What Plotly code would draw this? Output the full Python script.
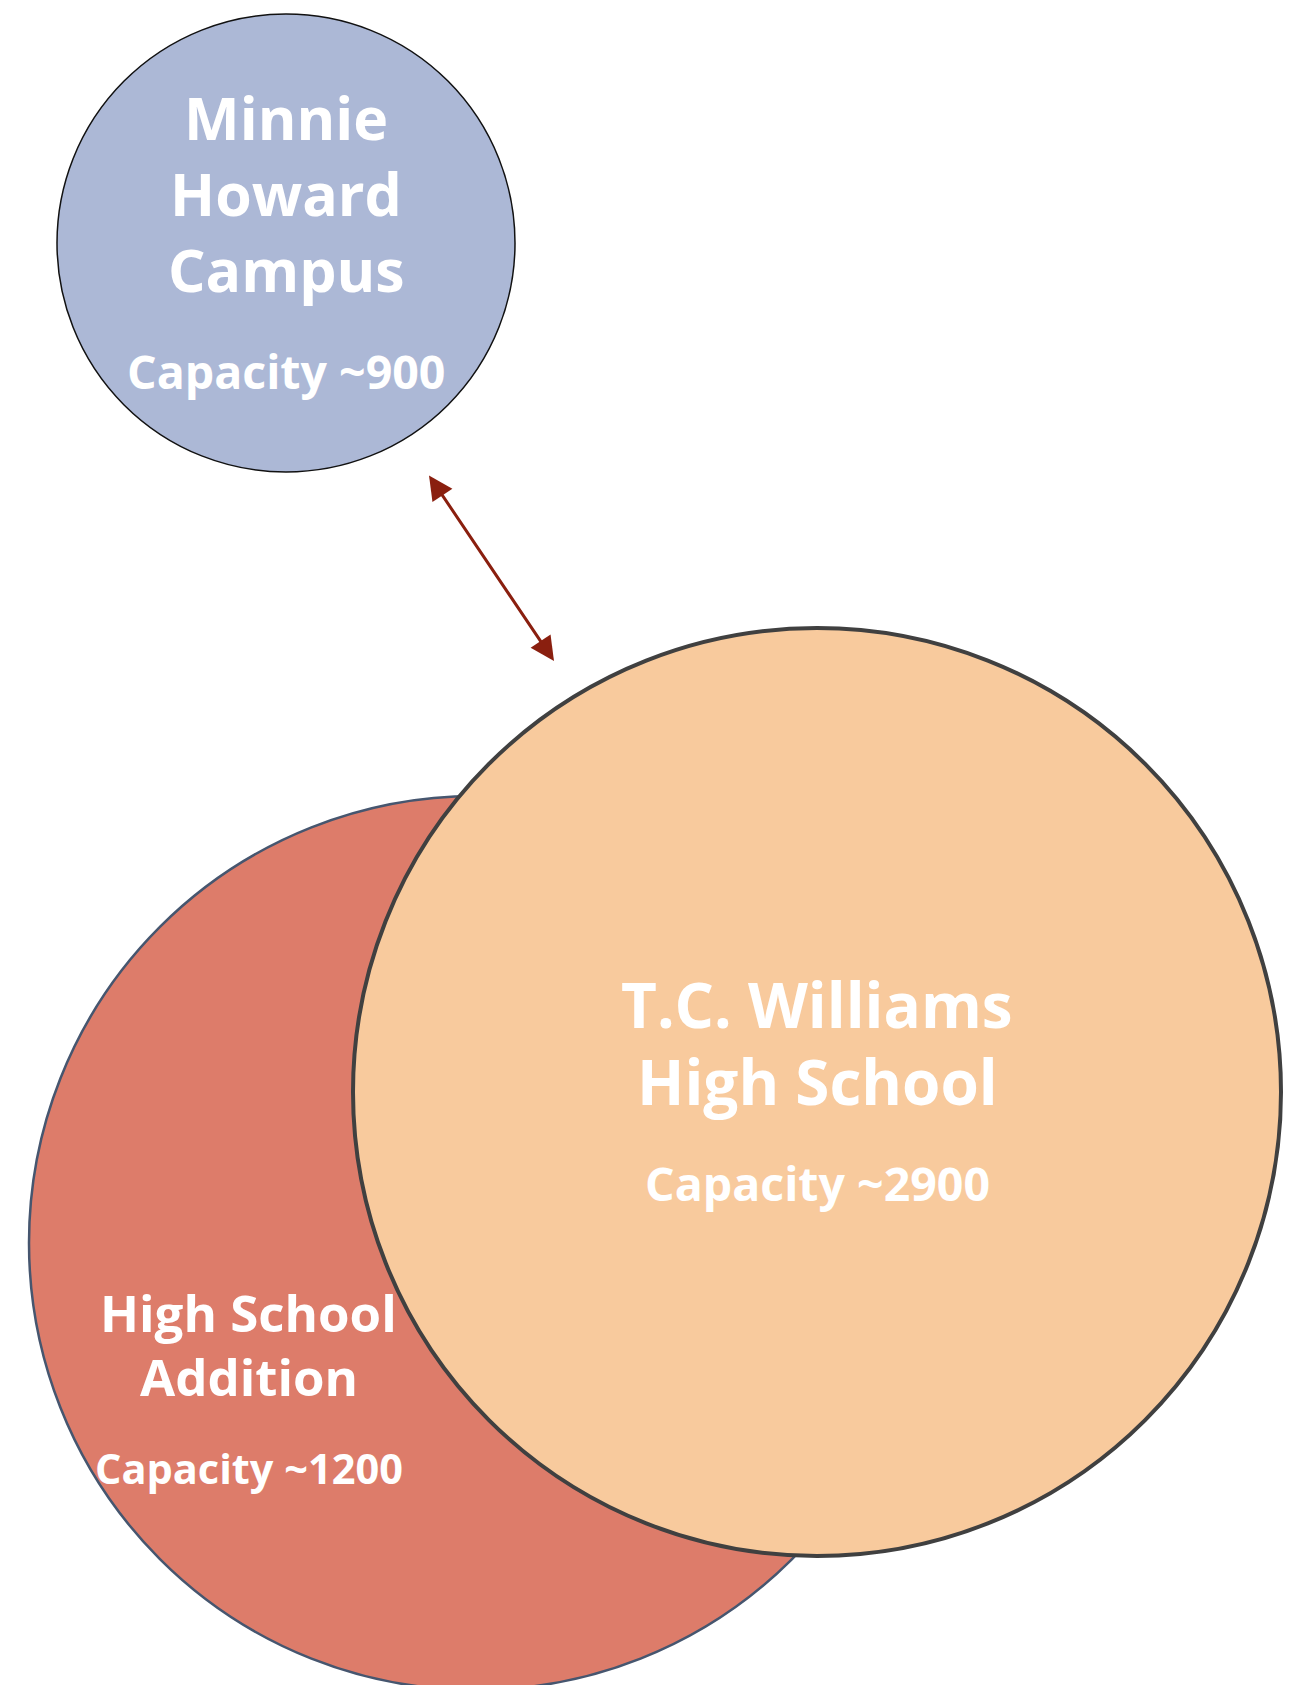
import plotly.graph_objects as go

# ---- data ----
schools = ["High School Addition", "T.C. Williams High School", "Minnie Howard Campus"]
title_lines = [["High School", "Addition"], ["T.C. Williams", "High School"], ["Minnie", "Howard", "Campus"]]
capacities = [1200, 2900, 900]

# ---- geometry (pixel space of the 1297x1685 canvas) ----
W, H = 1297, 1685
centers_x = [476, 817, 286]
centers_y = [1243, 1092, 243]
radii = [447, 464, 229]
fills = ["#DD7C6A", "#F8CA9D", "#ACB8D6"]
borders = ["#46566F", "#404040", "#111111"]
border_w = [2.5, 4, 1.5]

title_sizes = [51, 62, 59]
title_baselines = [[1332, 1396], [1028, 1105], [140, 216, 292]]
cap_sizes = [41.5, 46.5, 46.5]
cap_baselines = [1484, 1201, 389]
text_x = [248.5, 817, 286]

arrow_from = (428, 474)
arrow_to = (554, 661)

FONT = "Open Sans"

fig = go.Figure()
fig.add_trace(go.Scatter(x=[0, W], y=[0, H], mode="markers",
                         marker=dict(opacity=0), hoverinfo="skip", showlegend=False))

for i in range(len(schools)):
    fig.add_shape(type="circle", xref="x", yref="y",
                  x0=centers_x[i] - radii[i], x1=centers_x[i] + radii[i],
                  y0=centers_y[i] - radii[i], y1=centers_y[i] + radii[i],
                  fillcolor=fills[i], line=dict(color=borders[i], width=border_w[i]),
                  layer="above")

def add_text(x, baseline, txt, size):
    fig.add_annotation(x=x, y=baseline - 0.388 * size, xref="x", yref="y",
                       text=txt, showarrow=False, xanchor="center", yanchor="middle",
                       font=dict(family=FONT, size=size, color="white", weight="bold"))

for i in range(len(schools)):
    for line, b in zip(title_lines[i], title_baselines[i]):
        add_text(text_x[i], b, line, title_sizes[i])
    add_text(text_x[i], cap_baselines[i], f"Capacity ~{capacities[i]}", cap_sizes[i])

fig.add_annotation(x=arrow_to[0], y=arrow_to[1], ax=arrow_from[0], ay=arrow_from[1],
                   xref="x", yref="y", axref="x", ayref="y", text="",
                   showarrow=True, arrowhead=2, startarrowhead=2, arrowside="end+start",
                   arrowsize=1.6, startarrowsize=1.6, arrowwidth=3, arrowcolor="#8A1F0F",
                   standoff=0, startstandoff=0)

fig.update_xaxes(range=[0, W], visible=False, fixedrange=True)
fig.update_yaxes(range=[H, 0], visible=False, fixedrange=True)
fig.update_layout(width=W, height=H, margin=dict(l=0, r=0, t=0, b=0),
                  paper_bgcolor="white", plot_bgcolor="white", showlegend=False)

fig.write_html("out.html", config={"displayModeBar": False},
               post_script="document.body.style.margin='0';document.body.style.overflow='hidden';")
